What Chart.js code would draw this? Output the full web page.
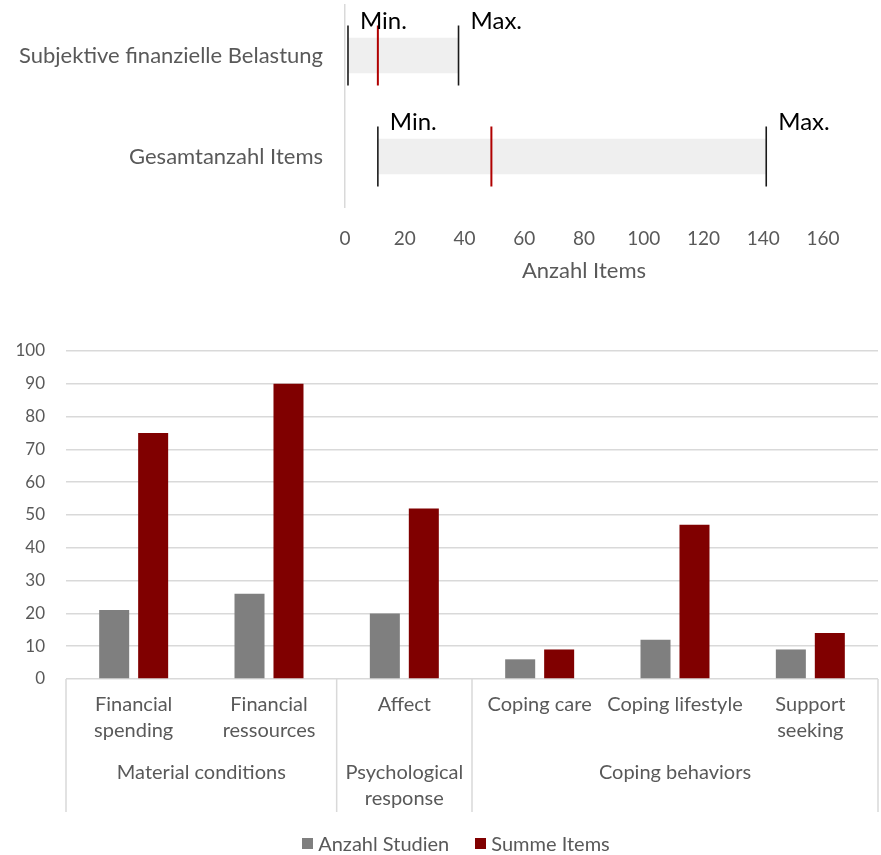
<!DOCTYPE html>
<html>
<head>
<meta charset="utf-8">
<script src="https://cdn.jsdelivr.net/npm/chart.js@4.4.1/dist/chart.umd.min.js"></script>
<style>
  html, body { margin: 0; padding: 0; background: #ffffff; }
  #wrap { position: relative; width: 881px; height: 855px; overflow: hidden; }
  canvas { position: absolute; left: 0; }
  #rangeChart { top: 0; }
  #barChart { top: 300px; }
  #legend {
    position: absolute; left: 0; top: 831px; width: 912px; height: 24px;
    display: flex; justify-content: center; align-items: center;
    font: 20px Lato, sans-serif; color: #595959; white-space: nowrap;
  }
  #legend .item { display: flex; align-items: center; margin: 0 13px; }
  #legend .box { width: 11px; height: 11px; margin-right: 5px; }
</style>
</head>
<body>
<div id="wrap">
  <canvas id="rangeChart" width="881" height="300"></canvas>
  <canvas id="barChart" width="881" height="555"></canvas>
  <div id="legend"></div>
</div>
<script>
// ---- Range chart: number of items per instrument ----
const rangeLabels = ['Subjektive finanzielle Belastung', 'Gesamtanzahl Items'];
const rangeMin = [1, 11];
const rangeMedian = [11, 49];
const rangeMax = [38, 141];
const rangeAxisTitle = 'Anzahl Items';

// ---- Grouped bar chart: studies and items per domain ----
const subCategories = [
  ['Financial', 'spending'],
  ['Financial', 'ressources'],
  ['Affect'],
  ['Coping care'],
  ['Coping lifestyle'],
  ['Support', 'seeking']
];
const groupLabels = [['Material conditions'], ['Psychological', 'response'], ['Coping behaviors']];
const groupSizes = [2, 1, 3];
const anzahlStudien = [21, 26, 20, 6, 12, 9];
const summeItems = [75, 90, 52, 9, 47, 14];
const seriesNames = ['Anzahl Studien', 'Summe Items'];

const TEXT = '#595959';

// Writes "Min." / "Max." next to the marker lines of the range chart
const minMaxLabels = {
  id: 'minMaxLabels',
  afterDatasetsDraw(chart) {
    const ctx = chart.ctx;
    ctx.save();
    ctx.font = '24px Lato';
    ctx.fillStyle = '#000000';
    ctx.textAlign = 'left';
    ctx.textBaseline = 'alphabetic';
    const put = (dsIndex, text) => {
      chart.getDatasetMeta(dsIndex).data.forEach(el => {
        ctx.fillText(text, el.x + 12, el.y - 27);
      });
    };
    put(1, 'Min.');
    put(3, 'Max.');
    ctx.restore();
  }
};

const markerLine = (values, color, width) => ({
  type: 'line',
  order: 0,
  showLine: false,
  data: rangeLabels.map((l, i) => ({ x: values[i], y: l })),
  pointStyle: 'line',
  rotation: 90,
  pointRadius: 30,
  pointHoverRadius: 30,
  pointBorderWidth: width,
  pointBorderColor: color,
  borderColor: color,
  backgroundColor: color
});

new Chart(document.getElementById('rangeChart'), {
  type: 'bar',
  data: {
    labels: rangeLabels,
    datasets: [
      {
        order: 10,
        data: rangeLabels.map((l, i) => [rangeMin[i], rangeMax[i]]),
        backgroundColor: '#efefef',
        borderWidth: 0,
        grouped: false,
        categoryPercentage: 1,
        barPercentage: 0.35
      },
      markerLine(rangeMin, '#1a1a1a', 1.6),
      markerLine(rangeMedian, '#b00000', 2),
      markerLine(rangeMax, '#1a1a1a', 1.6)
    ]
  },
  options: {
    indexAxis: 'y',
    responsive: false,
    animation: false,
    events: [],
    layout: { autoPadding: false, padding: { top: 5, right: 58, left: 0, bottom: 0 } },
    plugins: { legend: { display: false }, tooltip: { enabled: false } },
    scales: {
      x: {
        type: 'linear',
        min: 0,
        max: 160,
        ticks: { stepSize: 20, color: TEXT, font: { family: 'Lato', size: 19 }, padding: 20 },
        grid: { display: false, drawTicks: false },
        border: { display: false },
        title: {
          display: true, text: rangeAxisTitle, color: TEXT,
          font: { family: 'Lato', size: 22 }, padding: { top: 0, bottom: 16 }
        },
        afterFit(s) { s.height = 93; }
      },
      y: {
        type: 'category',
        grid: { color: 'rgba(0,0,0,0)', drawTicks: false },
        border: { display: true, color: '#d9d9d9', width: 1.5 },
        ticks: { color: TEXT, font: { family: 'Lato', size: 22 }, padding: 22 },
        afterFit(s) { s.width = 345; s.paddingTop = 0; s.paddingBottom = 0; }
      }
    }
  },
  plugins: [minMaxLabels]
});

// Draws the second level of the category axis: group names and separators
const groupAxis = {
  id: 'groupAxis',
  afterDraw(chart) {
    const xs = chart.scales.x;
    const ca = chart.chartArea;
    const ctx = chart.ctx;
    const step = xs.getPixelForValue(1) - xs.getPixelForValue(0);
    const edge = i => xs.getPixelForValue(i) - step / 2;
    const lineBottom = ca.bottom + 133;
    ctx.save();
    ctx.strokeStyle = '#d9d9d9';
    ctx.lineWidth = 1.5;
    ctx.fillStyle = TEXT;
    ctx.font = '20px Lato';
    ctx.textAlign = 'center';
    ctx.textBaseline = 'middle';
    const drawSep = x => {
      ctx.beginPath();
      ctx.moveTo(x, ca.bottom);
      ctx.lineTo(x, lineBottom);
      ctx.stroke();
    };
    let start = 0;
    drawSep(edge(0));
    groupSizes.forEach((n, g) => {
      const left = edge(start);
      const right = edge(start + n);
      drawSep(right);
      groupLabels[g].forEach((line, k) => {
        ctx.fillText(line, (left + right) / 2, ca.bottom + 94 + k * 26);
      });
      start += n;
    });
    ctx.restore();
  }
};

// Legend built as HTML from the chart's datasets
const htmlLegend = {
  id: 'htmlLegend',
  afterUpdate(chart) {
    const box = document.getElementById('legend');
    box.innerHTML = '';
    chart.data.datasets.forEach(ds => {
      const item = document.createElement('span');
      item.className = 'item';
      const sw = document.createElement('span');
      sw.className = 'box';
      sw.style.background = ds.backgroundColor;
      const txt = document.createElement('span');
      txt.textContent = ds.label;
      item.appendChild(sw);
      item.appendChild(txt);
      box.appendChild(item);
    });
  }
};

new Chart(document.getElementById('barChart'), {
  type: 'bar',
  data: {
    labels: subCategories,
    datasets: [
      {
        label: seriesNames[0],
        data: anzahlStudien,
        backgroundColor: '#7f7f7f',
        categoryPercentage: 0.576,
        barPercentage: 0.77
      },
      {
        label: seriesNames[1],
        data: summeItems,
        backgroundColor: '#800000',
        categoryPercentage: 0.576,
        barPercentage: 0.77
      }
    ]
  },
  options: {
    responsive: false,
    animation: false,
    events: [],
    layout: { autoPadding: false, padding: { top: 51, right: 3, left: 0, bottom: 38 } },
    plugins: {
      tooltip: { enabled: false },
      legend: { display: false }
    },
    scales: {
      x: {
        type: 'category',
        grid: { display: false, drawTicks: false },
        border: { display: false },
        ticks: {
          color: TEXT,
          font: { family: 'Lato', size: 20, lineHeight: 26 / 20 },
          padding: 13,
          maxRotation: 0,
          autoSkip: false
        },
        afterFit(s) { s.height = 138; }
      },
      y: {
        min: 0,
        max: 100,
        ticks: { stepSize: 10, color: TEXT, font: { family: 'Lato', size: 17 }, padding: 21 },
        grid: { color: '#d9d9d9', lineWidth: 1.5, drawTicks: false },
        border: { display: false },
        afterFit(s) { s.width = 66; }
      }
    }
  },
  plugins: [groupAxis, htmlLegend]
});
</script>
</body>
</html>
